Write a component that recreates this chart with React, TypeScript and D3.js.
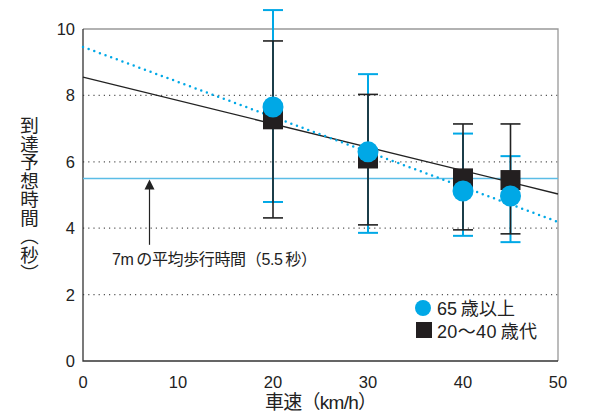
import React, { useEffect, useRef } from 'react';
import * as d3 from 'd3';

const speeds = [20, 30, 40, 45];
const elderMean = [7.65, 6.3, 5.12, 4.97];
const elderHigh = [10.57, 8.64, 6.85, 6.17];
const elderLow = [4.79, 3.86, 3.77, 3.58];
const youngMean = [7.28, 6.1, 5.5, 5.45];
const youngHigh = [9.64, 8.03, 7.14, 7.14];
const youngLow = [4.31, 4.1, 3.95, 3.83];
const elderTrend = [9.46, 4.19];
const youngTrend = [8.55, 5.03];
const walkTime = 5.5;
const xTicks = [0, 10, 20, 30, 40, 50];
const yTicks = [0, 2, 4, 6, 8, 10];

const BLUE = '#00a8e6';
const FONT = '"Liberation Sans", "Noto Sans CJK JP", sans-serif';

const App = () => {
  const ref = useRef<SVGSVGElement>(null);

  useEffect(() => {
    const svg = d3.select(ref.current);
    svg.selectAll('*').remove();

    const left = 83, right = 558, top = 29, bottom = 361;
    const x = d3.scaleLinear().domain([0, 50]).range([left, right]);
    const y = d3.scaleLinear().domain([0, 10]).range([bottom, top]);

    // grid
    svg.selectAll('.grid')
      .data([2, 4, 6, 8])
      .enter()
      .append('line')
      .attr('x1', left).attr('x2', right)
      .attr('y1', d => y(d)).attr('y2', d => y(d))
      .attr('stroke', '#555')
      .attr('stroke-width', 1.2)
      .attr('stroke-dasharray', '1.2,4');

    // frame
    svg.append('path')
      .attr('d', `M${left},${top}H${right}V${bottom}`)
      .attr('fill', 'none').attr('stroke', '#999').attr('stroke-width', 1.3);
    svg.append('path')
      .attr('d', `M${left},${top}V${bottom}H${right}`)
      .attr('fill', 'none').attr('stroke', '#333').attr('stroke-width', 1.3);

    // tick labels
    svg.selectAll('.xt')
      .data(xTicks).enter().append('text')
      .attr('x', d => x(d)).attr('y', bottom + 27)
      .attr('text-anchor', 'middle')
      .attr('font-size', 16.5).attr('font-family', FONT).attr('fill', '#222')
      .text(d => d);
    svg.selectAll('.yt')
      .data(yTicks).enter().append('text')
      .attr('x', left - 8).attr('y', d => y(d) + 6)
      .attr('text-anchor', 'end')
      .attr('font-size', 16.5).attr('font-family', FONT).attr('fill', '#222')
      .text(d => d);

    // walking time line
    svg.append('line')
      .attr('x1', left).attr('x2', right)
      .attr('y1', y(walkTime)).attr('y2', y(walkTime))
      .attr('stroke', '#5bbde6').attr('stroke-width', 1.5);

    // arrow
    svg.append('line')
      .attr('x1', x(7)).attr('x2', x(7))
      .attr('y1', y(3.5)).attr('y2', y(walkTime) + 8)
      .attr('stroke', '#222').attr('stroke-width', 1.2);
    svg.append('path')
      .attr('d', `M${x(7)},${y(walkTime) + 1}l-5,10h10z`)
      .attr('fill', '#222');
    svg.append('text')
      .attr('x', 112).attr('y', 265)
      .attr('font-size', 16).attr('font-family', FONT).attr('fill', '#222')
      .attr('textLength', 205).attr('lengthAdjust', 'spacing')
      .text('7m\u2009の平均歩行時間（5.5\u2009秒）');

    // trend lines
    svg.append('line')
      .attr('x1', x(0)).attr('x2', x(50))
      .attr('y1', y(youngTrend[0])).attr('y2', y(youngTrend[1]))
      .attr('stroke', '#222').attr('stroke-width', 1.3);
    svg.append('line')
      .attr('x1', x(0)).attr('x2', x(50))
      .attr('y1', y(elderTrend[0])).attr('y2', y(elderTrend[1]))
      .attr('stroke', BLUE).attr('stroke-width', 2.5)
      .attr('stroke-linecap', 'round')
      .attr('stroke-dasharray', '0,6');

    const errBars = (hi: number[], lo: number[], color: string, w: number) => {
      const g = svg.append('g').attr('stroke', color).attr('stroke-width', w);
      speeds.forEach((s, i) => {
        g.append('line').attr('x1', x(s)).attr('x2', x(s)).attr('y1', y(hi[i])).attr('y2', y(lo[i]));
        [hi[i], lo[i]].forEach(v => {
          g.append('line').attr('x1', x(s) - 10).attr('x2', x(s) + 10).attr('y1', y(v)).attr('y2', y(v));
        });
      });
    };
    errBars(elderHigh, elderLow, BLUE, 2);
    errBars(youngHigh, youngLow, '#222', 1.6);

    svg.selectAll('.sq')
      .data(speeds).enter().append('rect')
      .attr('x', d => x(d) - 10)
      .attr('y', (d, i) => y(youngMean[i]) - 10)
      .attr('width', 20).attr('height', 20)
      .attr('fill', '#231f20');
    svg.selectAll('.ci')
      .data(speeds).enter().append('circle')
      .attr('cx', d => x(d))
      .attr('cy', (d, i) => y(elderMean[i]))
      .attr('r', 10.5)
      .attr('fill', BLUE);

    // legend
    svg.append('circle').attr('cx', 423).attr('cy', 308).attr('r', 8).attr('fill', BLUE);
    svg.append('text').attr('x', 437).attr('y', 315)
      .attr('font-size', 18).attr('font-family', FONT).attr('fill', '#222')
      .attr('textLength', 78).attr('lengthAdjust', 'spacing')
      .text('65\u2009歳以上');
    svg.append('rect').attr('x', 416).attr('y', 322).attr('width', 16).attr('height', 16).attr('fill', '#231f20');
    svg.append('text').attr('x', 437).attr('y', 338)
      .attr('font-size', 18).attr('font-family', FONT).attr('fill', '#222')
      .attr('textLength', 100).attr('lengthAdjust', 'spacing')
      .text('20〜40\u2009歳代');

    // axis titles
    svg.append('text')
      .attr('x', 265).attr('y', 409)
      .attr('font-size', 19).attr('font-family', FONT).attr('fill', '#222')
      .attr('textLength', 112).attr('lengthAdjust', 'spacing')
      .text('車速（km/h）');
    svg.append('text')
      .attr('x', 28).attr('y', 116)
      .attr('writing-mode', 'vertical-rl')
      .attr('font-size', 18.5).attr('font-family', FONT).attr('fill', '#222')
      .text('到達予想時間（秒）');
  }, []);

  return <svg ref={ref} width={595} height={417} style={{ position: 'absolute', left: 0, top: 0 }} />;
};

export default App;
